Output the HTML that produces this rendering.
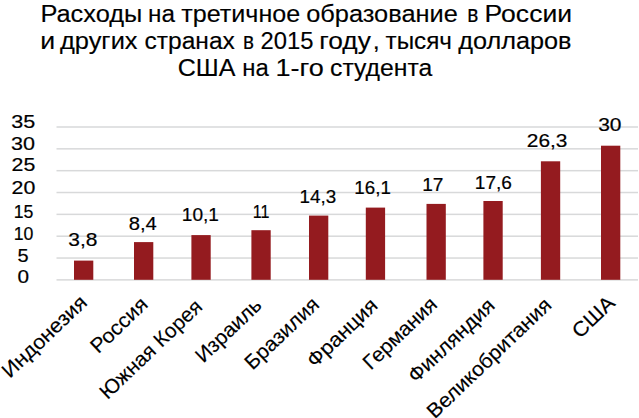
<!DOCTYPE html>
<html><head><meta charset="utf-8"><style>
html,body{margin:0;padding:0;background:#fff;width:639px;height:418px;overflow:hidden}
svg{position:absolute;left:0;top:0;}
.v{font-family:"Liberation Sans",sans-serif;font-size:18.8px;fill:#000;stroke:#000;stroke-width:0.2}
.x{font-family:"Liberation Sans",sans-serif;font-size:20.5px;fill:#000;stroke:#000;stroke-width:0.15}
.t{font-family:"Liberation Sans",sans-serif;font-size:23.5px;fill:#000;stroke:#000;stroke-width:0.15}
</style></head><body>
<svg width="639" height="418" viewBox="0 0 639 418">
<rect width="639" height="418" fill="#fff"/>
<g>
<text transform="translate(40.4 21.9) scale(1.0802 1)" class="t">Расходы</text>
<text transform="translate(148.0 21.9) scale(1.0342 1)" class="t">на</text>
<text transform="translate(181.3 21.9) scale(1.0679 1)" class="t">третичное</text>
<text transform="translate(306.2 21.9) scale(1.08 1)" class="t">образование</text>
<text transform="translate(467.3 21.9) scale(0.8924 1)" class="t">в</text>
<text transform="translate(484.6 21.9) scale(1.1291 1)" class="t">России</text>
<text transform="translate(40.3 49.2) scale(1.1349 1)" class="t">и</text>
<text transform="translate(60.0 49.2) scale(1.081 1)" class="t">других</text>
<text transform="translate(144.5 49.2) scale(1.0459 1)" class="t">странах</text>
<text transform="translate(242.9 49.2) scale(0.8827 1)" class="t">в</text>
<text transform="translate(260.5 49.2) scale(1.0137 1)" class="t">2015</text>
<text transform="translate(319.3 49.2) scale(1.1192 1)" class="t">году</text>
<text transform="translate(372.8 49.2) scale(1.067 1)" class="t">,</text>
<text transform="translate(385.6 49.2) scale(1.032 1)" class="t">тысяч</text>
<text transform="translate(458.2 49.2) scale(1.0756 1)" class="t">долларов</text>
<text transform="translate(177.8 76.4) scale(1.0651 1)" class="t">США</text>
<text transform="translate(242.2 76.4) scale(1.0178 1)" class="t">на</text>
<text transform="translate(275.5 76.4) scale(1.1508 1)" class="t">1-го</text>
<text transform="translate(330.0 76.4) scale(1.0546 1)" class="t">студента</text>
<rect x="56.5" y="126.25" width="581.5" height="1.5" fill="#d8d9da"/>
<rect x="56.5" y="148.09" width="581.5" height="1.5" fill="#d8d9da"/>
<rect x="56.5" y="169.93" width="581.5" height="1.5" fill="#d8d9da"/>
<rect x="56.5" y="191.77" width="581.5" height="1.5" fill="#d8d9da"/>
<rect x="56.5" y="213.61" width="581.5" height="1.5" fill="#d8d9da"/>
<rect x="56.5" y="235.45" width="581.5" height="1.5" fill="#d8d9da"/>
<rect x="56.5" y="257.29" width="581.5" height="1.5" fill="#d8d9da"/>
<rect x="56.5" y="279.13" width="581.5" height="1.5" fill="#d8d9da"/>
<rect x="74.0" y="260.6" width="19.3" height="19.20" fill="#941b1f"/>
<rect x="134.0" y="242.1" width="19.3" height="37.70" fill="#941b1f"/>
<rect x="191.4" y="235.1" width="19.3" height="44.70" fill="#941b1f"/>
<rect x="251.4" y="230.2" width="19.3" height="49.60" fill="#941b1f"/>
<rect x="309.0" y="215.6" width="19.3" height="64.20" fill="#941b1f"/>
<rect x="365.8" y="207.6" width="19.3" height="72.20" fill="#941b1f"/>
<rect x="426.5" y="203.9" width="19.3" height="75.90" fill="#941b1f"/>
<rect x="483.4" y="201.0" width="19.3" height="78.80" fill="#941b1f"/>
<rect x="540.9" y="161.3" width="19.3" height="118.50" fill="#941b1f"/>
<rect x="601.0" y="145.7" width="19.3" height="134.10" fill="#941b1f"/>
<text transform="translate(82.90 246.40) scale(1.1155 1.0)" text-anchor="middle" class="v">3,8</text>
<text transform="translate(142.70 229.80) scale(1.0743 1.0)" text-anchor="middle" class="v">8,4</text>
<text transform="translate(200.40 221.00) scale(1.0159 1.0)" text-anchor="middle" class="v">10,1</text>
<text transform="translate(261.10 218.10) scale(0.859 1.0)" text-anchor="middle" class="v">11</text>
<text transform="translate(317.90 202.60) scale(1.0029 1.0)" text-anchor="middle" class="v">14,3</text>
<text transform="translate(372.60 194.30) scale(0.9975 1.0)" text-anchor="middle" class="v">16,1</text>
<text transform="translate(432.80 191.10) scale(1.017 1.0)" text-anchor="middle" class="v">17</text>
<text transform="translate(493.40 189.00) scale(1.0148 1.0)" text-anchor="middle" class="v">17,6</text>
<text transform="translate(547.10 147.20) scale(1.1111 1.0)" text-anchor="middle" class="v">26,3</text>
<text transform="translate(609.80 130.90) scale(1.1144 1.0)" text-anchor="middle" class="v">30</text>
<text transform="translate(23.20 127.80) scale(1.1468 1.0)" text-anchor="middle" class="v">35</text>
<text transform="translate(23.10 150.40) scale(1.1468 1.0)" text-anchor="middle" class="v">30</text>
<text transform="translate(23.38 171.20) scale(1.136 1.0)" text-anchor="middle" class="v">25</text>
<text transform="translate(23.38 194.20) scale(1.136 1.0)" text-anchor="middle" class="v">20</text>
<text transform="translate(23.60 217.60) scale(0.9413 1.0)" text-anchor="middle" class="v">15</text>
<text transform="translate(23.60 240.00) scale(0.9413 1.0)" text-anchor="middle" class="v">10</text>
<text transform="translate(23.05 261.80) scale(1.0603 1.0)" text-anchor="middle" class="v">5</text>
<text transform="translate(23.35 282.80) scale(1.1036 1.0)" text-anchor="middle" class="v">0</text>
<text transform="translate(88.40 303.85) rotate(-43.7) scale(1.0492 1.0)" text-anchor="end" class="x">Индонезия</text>
<text transform="translate(149.05 305.80) rotate(-43.7) scale(1.046 1.0)" text-anchor="end" class="x">Россия</text>
<text transform="translate(203.60 308.25) rotate(-43.7) scale(1.0152 1.0)" text-anchor="end" class="x">Южная Корея</text>
<text transform="translate(262.95 306.70) rotate(-43.7) scale(1.0205 1.0)" text-anchor="end" class="x">Израиль</text>
<text transform="translate(320.45 305.80) rotate(-43.7) scale(1.0279 1.0)" text-anchor="end" class="x">Бразилия</text>
<text transform="translate(379.05 307.00) rotate(-43.7) scale(1.0588 1.0)" text-anchor="end" class="x">Франция</text>
<text transform="translate(438.50 305.95) rotate(-43.7) scale(1.0205 1.0)" text-anchor="end" class="x">Германия</text>
<text transform="translate(496.05 307.10) rotate(-43.7) scale(1.0343 1.0)" text-anchor="end" class="x">Финляндия</text>
<text transform="translate(552.75 306.60) rotate(-43.7) scale(1.0375 1.0)" text-anchor="end" class="x">Великобритания</text>
<text transform="translate(616.25 304.50) rotate(-43.7) scale(1.063 1.0)" text-anchor="end" class="x">США</text>
</g>
</svg>
</body></html>
